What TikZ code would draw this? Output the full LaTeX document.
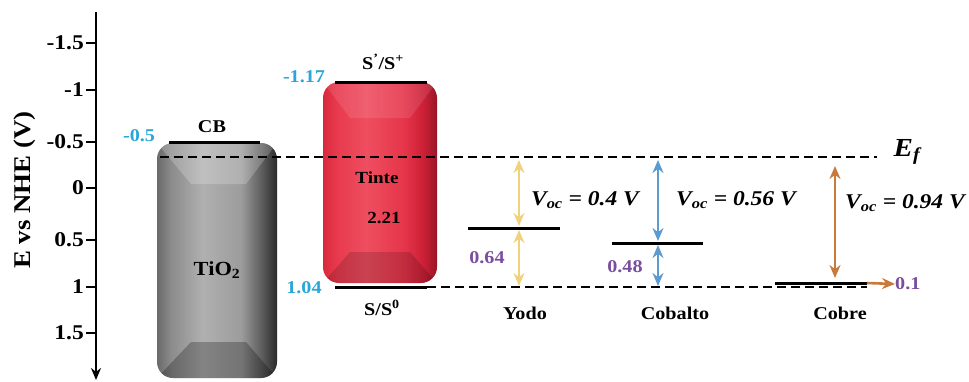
\documentclass[tikz,border=0pt]{standalone}
\usepackage{fontspec}
\setmainfont{Liberation Serif}[FakeStretch=1.12]
\usetikzlibrary{arrows.meta}
\definecolor{cyanlab}{HTML}{2BA6D8}
\definecolor{purp}{HTML}{7A4E9E}
\definecolor{yel}{HTML}{F0D27C}
\definecolor{blu}{HTML}{5B9BD0}
\definecolor{brn}{HTML}{C87A3C}
\definecolor{g1}{HTML}{6A6A6A}
\definecolor{g2}{HTML}{8C8C8C}
\definecolor{g3}{HTML}{B0B0B0}
\definecolor{g4}{HTML}{9C9C9C}
\definecolor{g5}{HTML}{5A5A5A}
\definecolor{g6}{HTML}{2A2A2A}
\definecolor{r1}{HTML}{D8283C}
\definecolor{r2}{HTML}{E83A4E}
\definecolor{r3}{HTML}{EE4E60}
\definecolor{r4}{HTML}{E6364B}
\definecolor{r5}{HTML}{CC2036}
\definecolor{r6}{HTML}{961426}
\pgfdeclarehorizontalshading{grayshade}{100bp}{color(0bp)=(g1); color(25bp)=(g1); color(31bp)=(g2); color(44bp)=(g3); color(60bp)=(g4); color(69bp)=(g5); color(75bp)=(g6); color(100bp)=(g6)}
\pgfdeclarehorizontalshading{redshade}{100bp}{color(0bp)=(r1); color(25bp)=(r1); color(31bp)=(r2); color(44bp)=(r3); color(60bp)=(r4); color(69bp)=(r5); color(75bp)=(r6); color(100bp)=(r6)}
\newcommand{\fs}[1]{\fontsize{#1}{#1}\selectfont}
\begin{document}
\begin{tikzpicture}[x=1pt,y=-1pt,
  lbl/.style={font=\bfseries\fs{18}, inner sep=0pt},
  ticklbl/.style={font=\bfseries\fs{21}, inner sep=0pt, anchor=east},
  cyanl/.style={font=\bfseries\fs{18}, text=cyanlab, inner sep=0pt},
  purpl/.style={font=\bfseries\fs{18}, text=purp, inner sep=0pt},
  vocl/.style={font=\bfseries\itshape\fs{21}, inner sep=0pt},
  level/.style={line width=3pt},
  efline/.style={line width=2.4pt, dash pattern=on 9pt off 5pt},
  tipA/.tip={Stealth[length=13pt,width=11pt]},
  dbl/.style={line width=2.6pt, tipA-tipA},
  sgl/.style={line width=2.6pt, -tipA}]
\useasboundingbox (0,0) rectangle (969,381);

% axis
\coordinate (axT) at (96,12);
\coordinate (axB) at (96,380);
\draw[line width=2.6pt, -{Stealth[length=12pt,width=10pt]}] (axT) -- (axB);
\foreach \yy/\lab [count=\i] in {43/-1.5, 90/-1, 142/-0.5, 188/0, 240/0.5, 287/1, 333/1.5}{
  \coordinate (tk\i) at (86,\yy);
  \coordinate (ta\i) at (96,\yy);
  \draw[line width=2pt] (tk\i) -- (ta\i);
  \node[ticklbl] (tl\i) at (84,\yy) {\lab};
}
\node[font=\bfseries\fs{24}, rotate=90, inner sep=0pt] (ylab) at (25,190) {E vs NHE (V)};

% TiO2 box
\shade[shading=grayshade, rounded corners=16pt] (157,143) rectangle (277,378);
\begin{scope}
\clip[rounded corners=16pt] (157,143) rectangle (277,378);
\fill[white, opacity=.2] (157,143) -- (277,143) -- (246,184) -- (191,184) -- cycle;
\fill[black, opacity=.25] (157,378) -- (277,378) -- (246,342) -- (191,342) -- cycle;
\end{scope}
\node[font=\bfseries\fs{20}, inner sep=0pt] (tio) at (217,270) {TiO\textsubscript{2}};
\coordinate (cbL) at (169,142);
\coordinate (cbR) at (260,142);
\draw[level] (cbL) -- (cbR);
\node[lbl] (cb) at (212,127) {CB};
\node[cyanl] (v05) at (139,136) {-0.5};

% Tinte box
\shade[shading=redshade, rounded corners=16pt] (323,82) rectangle (437,283);
\begin{scope}
\clip[rounded corners=16pt] (323,82) rectangle (437,283);
\fill[white, opacity=.1] (323,82) -- (437,82) -- (410,118) -- (350,118) -- cycle;
\fill[black, opacity=.15] (323,283) -- (437,283) -- (410,252) -- (350,252) -- cycle;
\end{scope}
\node[font=\bfseries\fs{17}, inner sep=0pt] (tinte) at (377,178) {Tinte};
\node[font=\bfseries\fs{17}, inner sep=0pt] (gap) at (384,218) {2.21};
\coordinate (ssL) at (335,82);
\coordinate (ssR) at (427,82);
\draw[level] (ssL) -- (ssR);
\node[lbl] (ssp) at (383,62) {S\textsuperscript{'}/S\textsuperscript{+}};
\node[cyanl] (v117) at (304,77) {-1.17};
\coordinate (s0L) at (335,287);
\coordinate (s0R) at (427,287);
\draw[level] (s0L) -- (s0R);
\node[lbl] (s0) at (382,308) {S/S\textsuperscript{0}};
\node[cyanl] (v104) at (304,288) {1.04};

% Fermi and bottom dashed lines
\coordinate (efL) at (160,157);
\coordinate (efR) at (877,157);
\draw[efline] (efL) -- (efR);
\node[font=\bfseries\itshape\fs{26}, inner sep=0pt] (ef) at (907,152) {E\textsubscript{f}};
\coordinate (bdR) at (867,287);
\draw[efline] (s0R) -- (bdR);

% Yodo
\coordinate (yL) at (468,228);
\coordinate (yR) at (560,228);
\draw[level] (yL) -- (yR);
\coordinate (yT) at (519,160);
\coordinate (yM1) at (519,226);
\coordinate (yM2) at (519,230);
\coordinate (yB) at (519,286);
\draw[dbl, yel] (yT) -- (yM1);
\draw[dbl, yel] (yM2) -- (yB);
\node[vocl] (vy) at (585,200) {V\textsubscript{oc} = 0.4 V};
\node[purpl] (p64) at (487,258) {0.64};
\node[lbl] (yodo) at (525,313) {Yodo};

% Cobalto
\coordinate (cL) at (612,243);
\coordinate (cR) at (703,243);
\draw[level] (cL) -- (cR);
\coordinate (cT) at (658,160);
\coordinate (cM1) at (658,241);
\coordinate (cM2) at (658,245);
\coordinate (cB) at (658,286);
\draw[dbl, blu] (cT) -- (cM1);
\draw[dbl, blu] (cM2) -- (cB);
\node[vocl] (vc) at (736,200) {V\textsubscript{oc} = 0.56 V};
\node[purpl] (p48) at (625,267) {0.48};
\node[lbl] (cobalto) at (675,313) {Cobalto};

% Cobre
\coordinate (kL) at (775,283);
\coordinate (kR) at (867,283);
\draw[level] (kL) -- (kR);
\coordinate (kT) at (835,166);
\coordinate (kB) at (835,278);
\draw[dbl, brn] (kT) -- (kB);
\coordinate (kA) at (895,284);
\draw[sgl, brn] (kR) -- (kA);
\node[purpl, anchor=west] (p01) at (895,284) {0.1};
\node[vocl] (vk) at (905,203) {V\textsubscript{oc} = 0.94 V};
\node[lbl] (cobre) at (840,313) {Cobre};
\end{tikzpicture}
\end{document}
